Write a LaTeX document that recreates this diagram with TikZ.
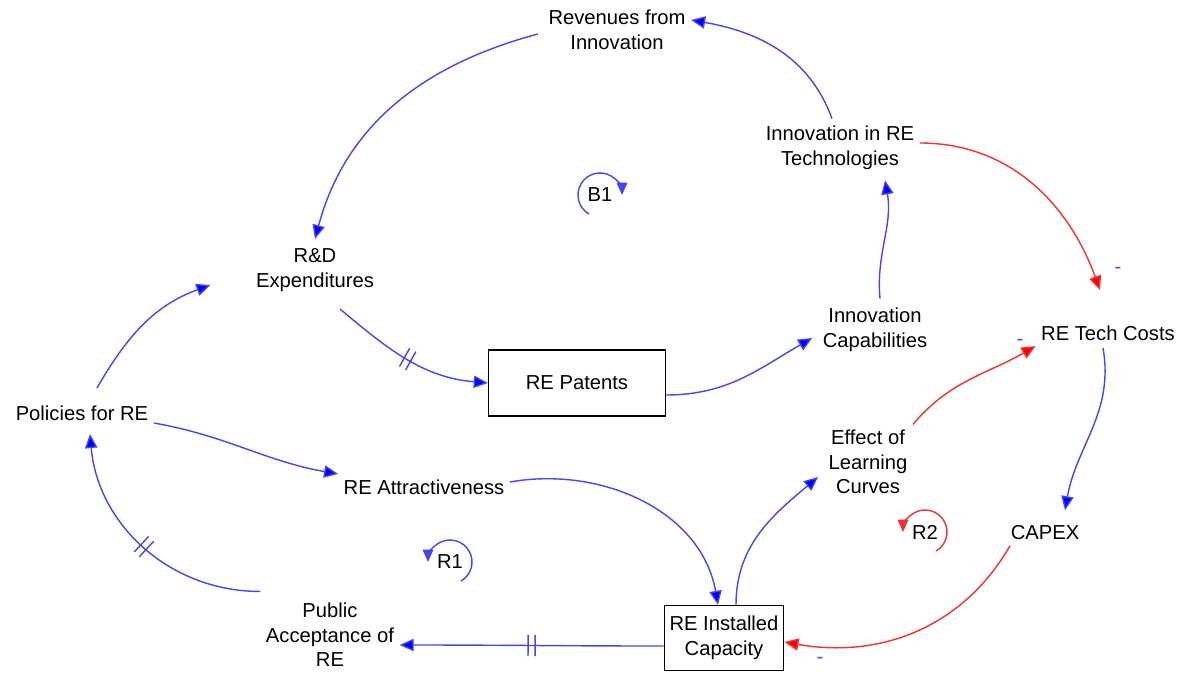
\documentclass[tikz,border=0pt]{standalone}
\usepackage{fontspec}
\setmainfont{Liberation Sans}
\usetikzlibrary{arrows.meta,decorations.markings,calc}
\definecolor{lb}{RGB}{70,70,235}
\definecolor{lr}{RGB}{240,50,50}
\tikzset{
 v/.style={align=center,inner sep=3pt,font=\fontsize{11.5}{14}\selectfont},
 bx/.style={v,draw,thick},
 plink/.style={draw=lb,thick,-{Triangle[length=8pt,width=7pt,fill=blue]}},
 nlink/.style={draw=lr,thick,-{Triangle[length=8pt,width=7pt,fill=red]}},
 delay/.style={postaction={decorate},decoration={markings,mark=at position 0.5 with {\draw[thick,-] (-2pt,-6pt)--(-2pt,6pt) (2pt,-6pt)--(2pt,6pt);}}},
 lp/.style={thick,-{Triangle[length=7pt,width=6pt]}}
}
\begin{document}
\begin{tikzpicture}[x=0.02cm,y=-0.02cm]
\useasboundingbox (0,0) rectangle (1200,690);
\node[v] (rev) at (617,30) {Revenues from\\Innovation};
\node[v] (inn) at (840,148) {Innovation in RE\\Technologies};
\node[v] (rd) at (315,270) {R\&D\\Expenditures};
\node[v] (cap) at (875,330) {Innovation\\Capabilities};
\node[v] (cost) at (1108,333) {RE Tech Costs};
\node[bx,minimum width=3.54cm,minimum height=1.32cm] (pat) at (577,383) {RE Patents};
\node[v] (pol) at (82,413) {Policies for RE};
\node[v] (eff) at (868,462) {Effect of\\Learning\\Curves};
\node[v] (att) at (424,487) {RE Attractiveness};
\node[v] (capex) at (1045,533) {CAPEX};
\node[v] (pub) at (330,635) {Public\\Acceptance of\\RE};
\node[bx,minimum width=2.08cm,minimum height=1.3cm] (ric) at (724,638) {RE Installed\\Capacity};

\draw[plink] ($(rev.west)+(-5,4)$) to[out=195,in=75] ($(rd.north)+(0,-4)$);
\draw[plink] ($(inn.north)+(-8,-2)$) to[out=110,in=-10] ($(rev.east)+(0,-10)$);
\draw[nlink] ($(inn.east)+(0,-5)$) to[out=0,in=110] ($(cost.north)+(-8,-30)$);
\draw[plink] ($(cap.north)+(5,-4)$) to[out=95,in=-80] ($(inn.south)+(45,5)$);
\draw[plink,delay] ($(rd.south)+(25,12)$) to[out=-40,in=175] (pat.west);
\draw[plink] ($(pat.east)+(0,12)$) to[out=0,in=210] ($(cap.west)+(-5,8)$);
\draw[plink] ($(pol.north)+(15,-12)$) to[out=60,in=200] ($(rd.west)+(-40,15)$);
\draw[plink] ($(pol.east)+(0,10)$) to[out=-10,in=170] (att.north west);
\draw[plink] ($(att.east)+(0,-5)$) to[out=10,in=100] ($(ric.north)+(-6,0)$);
\draw[plink] ($(ric.north)+(12,0)$) to[out=90,in=220] ($(eff.west)+(-5,15)$);
\draw[nlink] ($(eff.north)+(45,0)$) to[out=50,in=210] (cost.south west);
\draw[plink] ($(cost.south)+(-5,2)$) to[out=-80,in=80] ($(capex.north)+(20,-10)$);
\draw[nlink] ($(capex.south)+(-35,0)$) to[out=-120,in=-10] ($(ric.east)+(0,4)$);
\draw[plink,delay] ($(ric.west)+(0,8)$) to[out=180,in=0] ($(pub.east)+(0,10)$);
\draw[plink,delay] ($(pub.north west)+(0,-6)$) to[out=180,in=-85] ($(pol.south)+(8,8)$);

\node[v] (b1) at (600,195) {B1};
\draw[lp,lb] ($(b1)+(120:22)$) arc[start angle=120,end angle=360,radius=22];
\node[v] (r1) at (450,562) {R1};
\draw[lp,lb] ($(r1)+(60:22)$) arc[start angle=60,end angle=-180,radius=22];
\node[v] (r2) at (925,532) {R2};
\draw[lp,lr] ($(r2)+(60:22)$) arc[start angle=60,end angle=-180,radius=22];

\node[v,text=lb] (m1) at (1118,270) {-};
\node[v,text=lb] (m2) at (1020,342) {-};
\node[v,text=lb] (m3) at (820,660) {-};
\end{tikzpicture}
\end{document}
